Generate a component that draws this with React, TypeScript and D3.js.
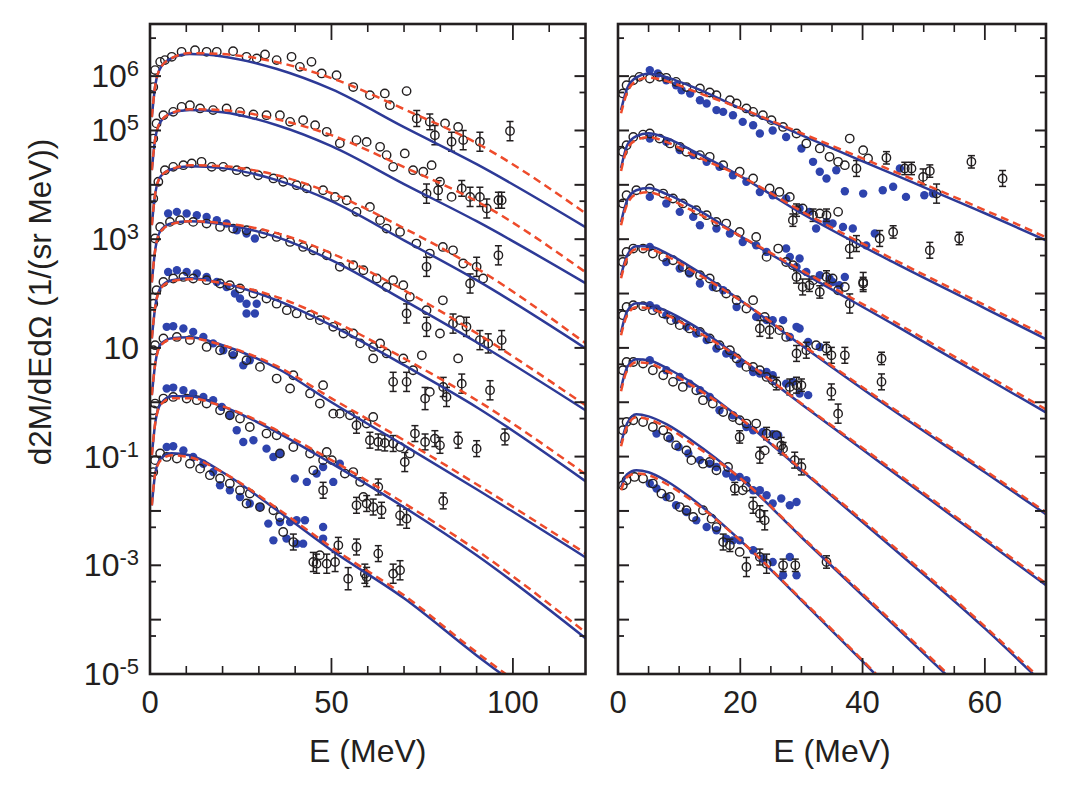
import React from "react";
import * as d3 from "d3";

// ---- axis ticks ----
const leftMajorE = [0, 50, 100];
const leftMinorE = [10, 20, 30, 40, 60, 70, 80, 90, 110];
const rightMajorE = [0, 20, 40, 60];
const rightMinorE = [5, 10, 15, 25, 30, 35, 45, 50, 55, 65];
const yMajor = [1e-5, 1e-4, 1e-3, 1e-2, 1e-1, 1, 10, 1e2, 1e3, 1e4, 1e5, 1e6];
const yMinor = [5e-5, 5e-4, 5e-3, 5e-2, 5e-1, 5, 50, 5e2, 5e3, 5e4, 5e5, 5e6];
const yLabels: [number, string][] = [
  [1e6, "6"], [1e5, "5"], [1e3, "3"], [10, ""], [1e-1, "-1"], [1e-3, "-3"], [1e-5, "-5"],
];

// ---- left panel: model curves [E, d2M/dEdΩ] ----
const leftSolid = [
  [[0.5,1.76e5],[1.5,7.1e5],[3,1.46e6],[6,2.14e6],[11,2.54e6],[20,2.3e6],[35,1.35e6],[50,5.75e5],[70,1.15e5],[90,2.4e4],[120,1.66e3]],
  [[0.5,1.87e4],[1.5,7.5e4],[3,1.48e5],[6,2.08e5],[11,2.37e5],[20,2.17e5],[35,1.25e5],[50,5.15e4],[70,1.03e4],[90,2.14e3],[120,155]],
  [[0.5,1.81e3],[1.5,7.3e3],[3,1.45e4],[6,1.94e4],[11,2.2e4],[20,2.03e4],[35,1.22e4],[50,5.0e3],[70,950],[90,176],[120,9.8]],
  [[0.5,161],[1.5,680],[3,1.46e3],[6,1.97e3],[11,2.14e3],[20,1.89e3],[35,1.09e3],[50,410],[70,75],[90,12.7],[120,0.71]],
  [[0.5,15],[1.5,61],[3,131],[6,176],[11,191],[20,155],[35,75],[50,26],[70,4.8],[90,0.81],[120,0.0352]],
  [[0.5,1.35],[1.5,5.44],[3,11.7],[6,15],[11,15.7],[20,11.2],[35,4.22],[50,1.0],[70,0.161],[90,0.0251],[120,1.4e-3]],
  [[0.5,0.106],[1.5,0.44],[3,0.95],[6,1.29],[11,1.29],[20,0.84],[35,0.28],[50,0.075],[70,0.0117],[90,1.53e-3],[120,4.55e-5]],
  [[0.5,0.0127],[1.5,0.0515],[3,0.093],[6,0.115],[11,0.106],[20,0.0515],[35,0.0103],[50,1.89e-3],[70,2.47e-4],[90,2.2e-5],[100,7.0e-6]],
];
const leftDashed = [
  [[0.5,1.76e5],[1.5,7.1e5],[3,1.46e6],[6,2.14e6],[11,2.65e6],[20,2.54e6],[35,1.81e6],[50,9.2e5],[70,2.47e5],[90,5.85e4],[120,3.0e3]],
  [[0.5,1.87e4],[1.5,7.5e4],[3,1.48e5],[6,2.08e5],[11,2.47e5],[20,2.37e5],[35,1.61e5],[50,8.2e4],[70,2.12e4],[90,5.0e3],[120,247]],
  [[0.5,1.81e3],[1.5,7.3e3],[3,1.45e4],[6,1.94e4],[11,2.3e4],[20,2.2e4],[35,1.5e4],[50,7.0e3],[70,1.59e3],[90,292],[120,12.2]],
  [[0.5,161],[1.5,680],[3,1.4e3],[6,1.89e3],[11,2.14e3],[20,1.97e3],[35,1.29e3],[50,550],[70,115],[90,18.6],[120,0.88]],
  [[0.5,15],[1.5,61],[3,125],[6,168],[11,183],[20,155],[35,86],[50,32.4],[70,6.4],[90,1.09],[120,0.0474]],
  [[0.5,1.35],[1.5,5.44],[3,11.2],[6,14.5],[11,15],[20,11.2],[35,4.6],[50,1.18],[70,0.2],[90,0.031],[120,1.66e-3]],
  [[0.5,0.106],[1.5,0.44],[3,0.91],[6,1.18],[11,1.18],[20,0.84],[35,0.305],[50,0.086],[70,0.0139],[90,1.89e-3],[120,5.85e-5]],
  [[0.5,0.0127],[1.5,0.0515],[3,0.086],[6,0.106],[11,0.097],[20,0.0515],[35,0.0112],[50,2.14e-3],[70,2.8e-4],[90,2.5e-5],[100,8.0e-6]],
];

// ---- left panel: measurements [E, value, error factor?] ----
const leftOpen = [
  [[0.9,6.3e5],[1.4,1.29e6],[2.8,1.83e6],[4.1,1.97e6],[6,2.27e6],[8.7,2.8e6],[12.4,3.0e6],[15.6,2.8e6],[18.4,2.8e6],[22.9,2.88e6],[26.6,2.27e6],[29.4,2.12e6],[31.7,2.5e6],[34.9,1.97e6],[39,2.27e6],[41.3,1.48e6],[44.5,1.83e6],[47.3,1.12e6],[51.4,1.04e6],[56,6.3e5],[60.6,4.47e5],[64.7,4.8e5],[66.1,2.92e5],[70.7,5.3e5],[73.5,1.66e5,1.4],[77.1,1.44e5,1.4],[78.5,8.2e4,1.5],[81.3,1.35e5],[83.1,6.2e4,1.5],[84.9,1.16e5],[86.3,6.65e4,1.5],[90.9,6.2e4,1.5],[99.2,9.75e4,1.5]],
  [[0.9,7.1e4],[1.8,1.35e5],[3.7,1.91e5],[6.4,2.2e5],[8.7,2.72e5],[11,2.92e5],[13.8,2.54e5],[17.4,2.37e5],[21.1,2.54e5],[24.8,2.2e5],[28.5,1.97e5],[32.1,1.91e5],[35.8,1.91e5],[38.6,1.44e5],[42.2,1.55e5],[45.5,1.25e5],[48.7,9.45e4],[52.3,5.8e4],[56.9,6.65e4],[59.7,6.17e4],[63.4,5.0e4],[65.2,3.52e4],[70.2,3.78e4],[67,2.14e4],[72.5,1.86e4],[75.3,1.74e4],[77.6,2.3e4],[76.2,6.9e3,1.5],[79.9,1.14e4],[79.4,7.95e3,1.5],[83.1,6.0e3],[85.9,8.6e3,1.4],[88.2,6.0e3,1.5],[90.9,6.0e3,1.5],[92.8,3.67e3,1.5],[96,5.2e3,1.4],[96.9,5.2e3,1.4]],
  [[0.9,5.6e3],[2.3,1.14e4],[4.1,1.86e4],[6.4,2.14e4],[9.2,2.3e4],[11.5,2.48e4],[14.2,2.65e4],[17,2.14e4],[20.2,2.14e4],[23.9,1.86e4],[26.6,1.74e4],[29.8,1.5e4],[34,1.31e4],[36.7,1.14e4],[40.4,9.85e3],[43.2,8.6e3],[47.7,7.95e3],[51,6.0e3],[54.2,5.2e3],[56.9,3.18e3],[60.6,3.93e3],[63.4,2.24e3],[65.2,1.57e3],[68.9,1.36e3],[73.4,830],[77.1,544],[80.7,720],[83.5,625],[80.7,75],[76.2,310,1.5],[86.3,357],[90,310,1.5],[91.8,189],[88.2,153,1.5],[96,505,1.5]],
  [[1.4,1.03e3],[2.8,1.68e3],[5.5,2.08e3],[8.3,2.24e3],[11.9,2.08e3],[15.6,1.94e3],[19.3,1.68e3],[22.9,1.57e3],[26.6,1.46e3],[31.2,1.27e3],[34.9,1.1e3],[38.6,890],[42.2,720],[45,625],[48.7,505],[52.3,310],[56,332],[58.8,268],[62.5,189],[65.2,132],[67,176],[69.8,142],[71.6,87],[70.7,43,1.5],[76.2,49.4],[79.9,18.4],[76.2,24.4,1.5],[83.5,28,1.5],[85.4,32.4],[84.9,6.4],[87.2,24.4,1.5],[90.9,13.9,1.5],[93.2,12.1,1.5],[96.9,13.9,1.5]],
  [[0.9,65],[1.8,115],[3.7,163],[6.4,189],[9.2,202],[11.9,189],[15.6,176],[19.3,153],[22,142],[24.8,124],[28.5,100],[32.1,81],[34.9,65],[37.7,49.4],[40.4,43],[44.1,40],[46.8,32.4],[50.5,24.4],[53.3,18.4],[56,18.4],[57.9,12.1],[61.5,10.4],[63.4,12.1],[65.2,7.9],[61.5,6.4],[67,2.37,1.5],[69.8,6.4],[70.7,2.37,1.5],[72.5,3.88],[74.9,7.3],[75.8,1.17,1.6],[77.1,1.55],[80.8,1.91,1.5],[81.7,1.25,1.5],[85.9,2.2,1.5],[93.7,1.66,1.5]],
  [[0.9,9.05],[1.4,11.2],[3.7,14.9],[7.4,15.9],[11,13.9],[15.6,10.4],[19.3,9.05],[22.9,7.9],[26.6,5.92],[30.3,4.47],[34.9,2.73],[39.5,3.14],[38.6,1.79],[44.1,1.45],[46.8,0.945],[47.7,2.06],[50.5,0.617],[52.3,0.617],[55.1,0.575],[56.9,0.377,1.4],[59.7,0.405],[61.5,0.535],[60.6,0.2,1.4],[62.9,0.186,1.4],[64.7,0.178,1.4],[67,0.174,1.4],[68.9,0.15],[70.2,0.0795,1.5],[71.6,0.114],[73,0.265,1.4],[75.8,0.186,1.4],[78.5,0.214,1.4],[79.9,0.161,1.4],[84.9,0.2,1.4],[90,0.14,1.4],[97.8,0.23,1.4]],
  [[0.9,0.71],[1.4,0.945],[3.7,1.17],[6.4,1.25],[10.1,1.17],[12.9,1.09],[15.6,0.945],[19.3,0.71],[22,0.575],[24.8,0.5],[27.5,0.35],[32.1,0.265],[34.9,0.247],[35.8,0.114],[39.5,0.15],[44.1,0.114],[47.7,0.086],[48.7,0.122],[50.1,0.086],[45,0.056],[53.7,0.0487],[56,0.052],[57.9,0.0342],[47.7,0.024,1.4],[56.9,0.0127,1.4],[59.7,0.0137,1.4],[61.5,0.0118,1.4],[62.9,0.0276,1.4],[63.8,0.0103,1.4],[68.9,8.3e-3,1.5],[70.7,7.2e-3,1.5],[80.8,0.0153,1.4],[58.8,0.0181]],
  [[0.9,0.052],[1.4,0.086],[2.8,0.114],[4.6,0.0985],[7.4,0.092],[11,0.074],[13.8,0.06],[16.5,0.0455],[19.3,0.0395],[22,0.0319],[24.8,0.024],[27.5,0.0209],[26.6,0.0137],[30.3,0.0118],[34,0.0103],[35.8,7.7e-3],[36.7,4.1e-3],[39.5,2.68e-3,1.4],[45,1.15e-3,1.5],[45.9,1.07e-3,1.5],[46.8,1.53e-3],[48.7,1.07e-3,1.5],[51,1.15e-3,1.5],[51.9,2.33e-3,1.4],[54.6,5.67e-4,1.6],[56.9,2.17e-3,1.4],[59.2,7.0e-4,1.5],[59.7,6.1e-4,1.5],[62.9,1.64e-3,1.4],[67,7.0e-4,1.5],[68.9,8.1e-4,1.5]],
];
const leftFilled = [
  [], [], [],
  [[5,2.97e3],[7.4,3.18e3],[10.1,2.97e3],[12.9,2.76e3],[15.6,2.57e3],[18.4,2.24e3],[21.1,1.94e3],[23.9,1.46e3],[26.6,1.27e3],[28.9,1.03e3]],
  [[5,250],[7.4,268],[10.1,250],[12.9,233],[15.6,202],[18.4,163],[21.1,132],[23.4,100],[24.8,81],[26.6,65],[26.6,43],[28.9,43],[29.4,65]],
  [[4.6,24.4],[6.4,25],[9.2,22.8],[11.9,19.7],[14.7,15.9],[17.4,12.1],[20.2,9.05],[22.9,7.3],[25.7,4.8],[27.5,5.92]],
  [[4.6,1.79],[6.4,1.86],[9.2,1.66],[11.9,1.45],[14.7,1.25],[17.4,1.09],[19.8,0.82],[22,0.575],[23.9,0.305],[25.7,0.186],[28.5,0.2],[32.1,0.14],[34,0.0985],[35.8,0.114],[39.9,0.0395],[43.2,0.0342],[45.9,0.0487],[47.7,0.0644],[50.5,0.0342],[52.3,0.074]],
  [[4.6,0.15],[6.4,0.155],[9.2,0.13],[11.9,0.0985],[14.7,0.074],[17.4,0.052],[19.3,0.0297],[22,0.024],[24.8,0.0181],[27.5,0.0137],[30.3,0.0118],[32.6,5.85e-3],[34,2.88e-3],[35.8,6.25e-3],[38.6,6.25e-3],[40.4,6.73e-3],[42.7,6.73e-3],[37.6,3.1e-3],[40.4,2.5e-3],[42.2,2.5e-3],[47.7,5.05e-3],[47.7,3.1e-3]],
];

// ---- right panel: model curves ----
const rightSolid = [
  [[0.5,2.37e5],[1.5,6.0e5],[3,9.5e5],[5,1.11e6],[8,9.5e5],[12,6.5e5],[20,2.57e5],[30,8.2e4],[45,1.57e4],[60,3.0e3],[70,950]],
  [[0.5,2.03e4],[1.5,5.35e4],[3,7.9e4],[5,8.9e4],[8,7.2e4],[12,4.35e4],[20,1.45e4],[30,3.0e3],[45,377],[60,53.5],[70,14.5]],
  [[0.5,2.06e3],[1.5,5.2e3],[3,7.95e3],[5,8.7e3],[8,6.73e3],[12,4.05e3],[20,1.14e3],[30,247],[45,27.3],[60,2.88],[70,0.65]],
  [[0.5,217],[1.5,505],[3,740],[5,740],[8,550],[12,305],[20,75],[30,11.2],[45,0.71],[60,0.0515],[70,8.7e-3]],
  [[0.5,19.4],[1.5,47.3],[3,66.5],[5,63.7],[8,47.3],[12,27.3],[20,6.44],[30,0.92],[45,0.0515],[60,2.88e-3],[70,4.28e-4]],
  [[0.5,1.81],[1.5,4.41],[3,6.17],[5,5.92],[8,4.22],[12,2.33],[20,0.505],[30,0.056],[45,2.06e-3],[60,6.9e-5],[70,5.9e-6]],
  [[0.5,0.176],[1.5,0.41],[3,0.6],[5,0.55],[8,0.39],[12,0.2],[20,0.04],[30,3.28e-3],[45,8.2e-5],[55,7.0e-6]],
  [[0.5,0.0273],[1.5,0.0473],[3,0.056],[5,0.0515],[8,0.0352],[12,0.0171],[20,2.88e-3],[30,2.27e-4],[40,1.71e-5],[45,4.6e-6]],
];
const rightDashed = [
  [[0.5,2.08e5],[1.5,5.05e5],[3,8.1e5],[5,9.4e5],[8,8.1e5],[12,5.5e5],[20,2.57e5],[30,8.9e4],[45,1.79e4],[60,3.42e3],[70,1.09e3]],
  [[0.5,1.79e4],[1.5,4.55e4],[3,6.65e4],[5,7.5e4],[8,6.1e4],[12,3.67e4],[20,1.45e4],[30,3.28e3],[45,428],[60,61],[70,16.4]],
  [[0.5,1.81e3],[1.5,4.41e3],[3,6.73e3],[5,7.3e3],[8,5.67e3],[12,3.42e3],[20,1.14e3],[30,268],[45,31],[60,3.28],[70,0.74]],
  [[0.5,191],[1.5,447],[3,650],[5,650],[8,485],[12,268],[20,75],[30,11.7],[45,0.77],[60,0.056],[70,9.45e-3]],
  [[0.5,17.1],[1.5,40],[3,56],[5,53.5],[8,40],[12,23],[20,6.44],[30,0.95],[45,0.056],[60,3.14e-3],[70,4.65e-4]],
  [[0.5,1.59],[1.5,3.88],[3,5.44],[5,5.2],[8,3.72],[12,2.06],[20,0.505],[30,0.0585],[45,2.24e-3],[60,7.5e-5],[70,6.5e-6]],
  [[0.5,0.155],[1.5,0.36],[3,0.53],[5,0.485],[8,0.345],[12,0.176],[20,0.04],[30,3.42e-3],[45,8.9e-5],[55,7.7e-6]],
  [[0.5,0.024],[1.5,0.042],[3,0.049],[5,0.0455],[8,0.031],[12,0.0157],[20,2.88e-3],[30,2.37e-4],[40,1.79e-5],[45,4.8e-6]],
];

// ---- right panel: measurements ----
const rightOpen = [
  [[0.8,4.8e5],[1.4,6.8e5],[2.5,8.4e5],[3.5,9.7e5],[5.2,9.05e5],[6.8,9.7e5],[7.9,9.3e5],[9.5,7.85e5],[11.2,6.3e5],[13.4,5.92e5],[15,5.0e5],[16.1,4.47e5],[18.3,3.6e5],[19.4,3.14e5],[21,2.54e5],[22.1,2.2e5],[23.7,1.91e5],[25.1,1.55e5],[27,1.16e5],[29.2,8.8e4],[30.8,5.78e4],[33,4.67e4],[34.6,3.28e4],[36,2.65e4],[37.1,2.3e4],[37.9,7.1e4],[40.1,4.35e4],[40.9,3.06e4],[39,2.0e4,1.4],[43.9,3.14e4,1.3],[46.9,2.0e4,1.3],[48,2.0e4,1.3],[49.9,1.4e4,1.4],[51,1.79e4,1.3],[52.1,6.9e3,1.5],[57.8,2.65e4,1.3],[62.9,1.31e4,1.4]],
  [[0.8,4.05e4],[1.4,5.35e4],[2.5,7.6e4],[4.1,8.4e4],[5.2,8.8e4],[6.8,7.1e4],[8.5,5.78e4],[10.1,5.0e4],[11.2,4.05e4],[13.4,3.52e4],[15,3.28e4],[17.2,2.3e4],[19.9,1.74e4],[22.1,1.31e4],[24.8,8.6e3],[26.4,7.4e3],[28.1,6.0e3],[29.2,3.42e3,1.3],[30.2,3.67e3],[31.9,2.76e3,1.3],[33,2.97e3],[34.1,2.76e3,1.3],[36,3.18e3],[37.9,673,1.5],[39,830,1.4],[42.8,1.03e3,1.4],[45,1.36e3,1.3],[51,625,1.4],[55.8,1.03e3,1.3],[40.1,163,1.5],[28.6,2.24e3,1.3]],
  [[0.8,4.54e3],[1.4,6.44e3],[3,7.95e3],[5.2,8.6e3],[7.4,6.9e3],[9,5.6e3],[10.6,4.54e3],[12.8,3.42e3],[14.5,2.76e3],[16.1,2.08e3],[17.7,1.94e3],[19.9,1.36e3],[22.6,1.1e3],[26.2,673],[24.3,472],[27.5,380],[28.6,332],[29.2,202,1.3],[30.2,132,1.4],[31.3,142,1.3],[33,107,1.3],[31.9,176],[34.1,202,1.3],[35.1,189],[36,115],[37.1,132],[37.9,65.5,1.5],[40.1,153,1.3]],
  [[0.8,380],[1.4,583],[2.5,673],[4.1,673],[5.7,544],[7.4,472],[9,410],[10.6,309],[11.7,250],[13.4,217],[15,189],[16.1,132],[17.7,100],[19.4,75.5],[22.1,75.5],[21,53],[24,37.2],[23.2,22.8,1.4],[24.8,21.2,1.4],[26.4,21.2],[27.5,15.9],[29.2,7.9,1.4],[30.8,9.05,1.4],[32.4,11.2],[34.1,9.75,1.3],[34.9,7.3,1.4],[37.1,7.3,1.4],[43.1,6.4,1.3],[43.1,2.37,1.4]],
  [[0.8,40],[1.4,56.7],[2.5,61],[4.1,58.5],[5.7,49.4],[7.4,43],[8.7,32.4],[10.1,26.2],[11.7,22.8],[13.4,19.7],[15,14.9],[16.6,11.2],[18.3,9.05],[19.4,6.4],[21,4.47],[22.1,4.47],[23.2,3.88],[24.3,2.92],[25.3,2.54],[25.9,2.2,1.3],[28.1,1.91,1.4],[29.2,2.06,1.4],[30,2.06,1.3],[34.9,1.55,1.4],[36,0.617,1.5]],
  [[0.8,3.88],[1.4,5.5],[2.5,5.5],[4.1,5.15],[5.7,3.88],[7.4,3.14],[9,2.37],[10.6,1.91],[12.8,1.66],[13.9,1.09],[15.5,0.945],[17.2,0.66],[18.8,0.535],[19.9,0.466],[21,0.405],[22.6,0.405],[24.3,0.265,1.3],[25.9,0.247],[26.7,0.161,1.4],[19.9,0.23,1.3],[23.2,0.106,1.4],[24,0.13],[27,0.14,1.3],[28.9,0.086,1.4],[30,0.0644,1.4]],
  [[0.8,0.305],[1.4,0.433],[2.5,0.466],[4.1,0.433],[5.7,0.35],[7.4,0.305],[8.2,0.23],[9.5,0.161],[11.2,0.13],[12,0.086],[13.9,0.074],[15,0.0795],[16.1,0.056],[18,0.0644],[19.1,0.0258,1.3],[20.4,0.024],[21,0.0276],[22.1,0.0127,1.4],[23.2,8.9e-3,1.4],[24,6.73e-3,1.5]],
  [[0.8,0.0297],[1.4,0.0367],[2.7,0.0422],[4.1,0.0395],[5.7,0.0319],[7.1,0.0209],[8.5,0.0181],[10.1,0.0118],[11.2,0.0103],[12.3,7.75e-3],[13.9,0.0103],[15.3,7.2e-3],[16.1,5.05e-3],[17.2,2.68e-3,1.4],[18.3,2.33e-3,1.3],[19.9,1.76e-3],[21,9.3e-4,1.5],[23.2,1.42e-3,1.4],[24.3,1.07e-3,1.5],[27,1.0e-3,1.3],[29,1.0e-3,1.3],[34.1,1.15e-3,1.3]],
];
const rightFilled = [
  [[5.2,1.29e6],[6.5,1.12e6],[7.9,8.4e5],[9.5,6.8e5],[10.4,5.5e5],[11.8,4.8e5],[13.4,3.6e5],[14.5,3.14e5],[16.1,2.37e5],[17.2,2.2e5],[18.8,1.91e5],[20.4,1.44e5],[22.1,1.25e5],[23.2,8.8e4],[25.3,1.0e5],[27.5,7.6e4],[30,4.67e4],[31.9,2.65e4],[33,1.74e4],[34.1,1.31e4],[35.7,1.86e4],[37.1,7.6e3],[40.1,6.9e3],[43.3,7.95e3],[45,9.2e3],[46.1,2.0e4],[47.1,6.0e3],[50.1,6.44e3],[51.5,6.9e3]],
  [[5.2,7.1e4],[7.9,6.17e4],[10.1,4.35e4],[12.3,3.52e4],[14.5,2.65e4],[16.6,2.14e4],[18.8,1.5e4],[21,1.14e4],[23.2,7.4e3],[25.3,6.44e3],[27.5,5.6e3],[29.7,3.67e3],[31.3,3.18e3],[32.4,1.57e3],[34.1,2.08e3],[35.1,1.94e3],[36.8,1.68e3],[38.4,1.57e3],[40.6,770],[42,1.27e3]],
  [[5.2,6.0e3],[7.9,4.54e3],[10.1,3.18e3],[12.3,2.57e3],[13.4,1.81e3],[16.1,1.57e3],[18.3,1.27e3],[20.4,890],[22.6,770],[24.3,583],[27.5,673],[29.7,441],[28.1,472],[29.2,309],[30.8,250],[33,217],[34.6,189],[35.1,163],[37.1,202],[36.2,142]],
  [[5.2,720],[7.9,380],[10.1,288],[11.7,233],[13.4,153],[15.5,132],[17.2,115],[19.4,56.7],[22.6,37.2],[24.3,32.4],[25.3,32.4],[27,32.4],[29.2,24.4],[29.7,22.8],[28.1,15.9],[31.1,12.9],[33,10.4]],
  [[5.2,61],[6.3,53],[7.9,40],[9.5,32.4],[11.2,24.4],[12.8,18.4],[14.5,13.9],[16.1,9.75],[17.7,7.9],[18.8,7.3],[19.9,5.15],[22.1,3.6],[23.2,3.38],[24.3,3.6],[25.3,3.14],[27.5,2.2],[28.6,2.37],[29.7,1.45],[31.1,1.35]],
  [[5.2,5.92],[7.9,3.88],[10.1,2.92],[11.7,2.2],[13.4,1.66],[15,1.25],[16.6,0.71],[18.8,0.575],[21,0.35],[22.1,0.305],[23.7,0.284],[25.3,0.257],[26.2,0.247]],
  [[6.3,0.265],[8.5,0.214],[9.9,0.15],[11.5,0.114],[13.4,0.086],[15,0.074],[16.1,0.0644],[17.7,0.0487],[18.8,0.0422],[19.9,0.0422],[21,0.0367],[22.1,0.024],[23.2,0.024],[24.3,0.0194],[25.3,0.0137],[26.7,0.0169],[28.1,0.0127],[29.2,0.0146]],
  [[5.2,0.0319],[6.3,0.0258],[7.9,0.0181],[9.5,0.0127],[11.2,9.5e-3],[12.8,6.73e-3],[14.5,5.05e-3],[16.1,4.41e-3],[17.7,3.1e-3],[18.8,2.88e-3],[19.9,2.88e-3],[22.1,1.89e-3],[23.7,1.33e-3],[25.3,1.15e-3],[28.1,1.42e-3],[27,6.55e-4],[29.2,6.55e-4]],
];

// ---- layout / style ----
const W = 1072, H = 787;
const Y_TOP = 24, Y_BOTTOM = 674;
const INK = "#231f20";
const BLUE_LINE = "#2d3a97";
const BLUE_DOT = "#2e43ad";
const RED = "#ee4b2b";
const FONT = "'Liberation Sans', Arial, Helvetica, sans-serif";

const y = d3.scaleLog().domain([1e-5, 9.1e6]).range([Y_BOTTOM, Y_TOP]);

function Panel({ id, x0, x1, eMax, major, minor, solid, dashed, open, filled }: any) {
  const x = d3.scaleLinear().domain([0, eMax]).range([x0, x1]);
  const line = d3.line<number[]>()
    .x(d => x(d[0]))
    .y(d => y(d[1]))
    .curve(d3.curveMonotoneX);

  return (
    <g>
      <defs>
        <clipPath id={id}>
          <rect x={x0} y={Y_TOP} width={x1 - x0} height={Y_BOTTOM - Y_TOP} />
        </clipPath>
      </defs>
      <g clipPath={`url(#${id})`}>
        {filled.map((s: number[][], i: number) => s.map((d, j) => (
          <circle key={`f${i}-${j}`} cx={x(d[0])} cy={y(d[1])} r={4.2} fill={BLUE_DOT} />
        )))}
        {open.map((s: number[][], i: number) => s.map((d, j) => (
          <g key={`o${i}-${j}`}>
            {d[2] ? (
              <g stroke={INK} strokeWidth={1.5}>
                <line x1={x(d[0])} x2={x(d[0])} y1={y(d[1] / d[2])} y2={y(d[1] * d[2])} />
                <line x1={x(d[0]) - 3.5} x2={x(d[0]) + 3.5} y1={y(d[1] / d[2])} y2={y(d[1] / d[2])} />
                <line x1={x(d[0]) - 3.5} x2={x(d[0]) + 3.5} y1={y(d[1] * d[2])} y2={y(d[1] * d[2])} />
              </g>
            ) : null}
            <circle cx={x(d[0])} cy={y(d[1])} r={4.2} fill="none" stroke={INK} strokeWidth={1.4} />
          </g>
        )))}
        {solid.map((s: number[][], i: number) => (
          <path key={`s${i}`} d={line(s) || ""} fill="none" stroke={BLUE_LINE} strokeWidth={2.5} />
        ))}
        {dashed.map((s: number[][], i: number) => (
          <path key={`d${i}`} d={line(s) || ""} fill="none" stroke={RED} strokeWidth={2.5} strokeDasharray="8 5" />
        ))}
      </g>

      <g stroke={INK}>
        {major.map((e: number) => (
          <g key={`xm${e}`} strokeWidth={1.8}>
            <line x1={x(e)} x2={x(e)} y1={Y_BOTTOM} y2={Y_BOTTOM - 16} />
            <line x1={x(e)} x2={x(e)} y1={Y_TOP} y2={Y_TOP + 16} />
          </g>
        ))}
        {minor.map((e: number) => (
          <g key={`xn${e}`} strokeWidth={1.6}>
            <line x1={x(e)} x2={x(e)} y1={Y_BOTTOM} y2={Y_BOTTOM - 8} />
            <line x1={x(e)} x2={x(e)} y1={Y_TOP} y2={Y_TOP + 8} />
          </g>
        ))}
        {yMajor.map(v => (
          <g key={`ym${v}`} strokeWidth={2}>
            <line x1={x0} x2={x0 + 11} y1={y(v)} y2={y(v)} />
            <line x1={x1} x2={x1 - 11} y1={y(v)} y2={y(v)} />
          </g>
        ))}
        {yMinor.map(v => (
          <g key={`yn${v}`} strokeWidth={1.8}>
            <line x1={x0} x2={x0 + 6} y1={y(v)} y2={y(v)} />
            <line x1={x1} x2={x1 - 6} y1={y(v)} y2={y(v)} />
          </g>
        ))}
        <rect x={x0} y={Y_TOP} width={x1 - x0} height={Y_BOTTOM - Y_TOP} fill="none" strokeWidth={2.6} />
      </g>

      <g fontFamily={FONT} fontSize={31} fill={INK} textAnchor="middle">
        {major.map((e: number) => (
          <text key={`xl${e}`} x={x(e)} y={713}>{e}</text>
        ))}
        <text x={(x0 + x1) / 2} y={762} fontSize={32}>E (MeV)</text>
      </g>
    </g>
  );
}

export default function App() {
  return (
    <svg width={W} height={H} viewBox={`0 0 ${W} ${H}`}
      style={{ position: "absolute", left: 0, top: 0, background: "#fff" }}>
      <rect width={W} height={H} fill="#fff" />
      <Panel id="clipL" x0={150} x1={585.5} eMax={120} major={leftMajorE} minor={leftMinorE}
        solid={leftSolid} dashed={leftDashed} open={leftOpen} filled={leftFilled} />
      <Panel id="clipR" x0={618} x1={1046} eMax={70} major={rightMajorE} minor={rightMinorE}
        solid={rightSolid} dashed={rightDashed} open={rightOpen} filled={rightFilled} />

      <g fontFamily={FONT} fontSize={32} fill={INK} textAnchor="end">
        {yLabels.map(([v, sup]) => (
          <text key={`yl${v}`} x={139} y={y(v) + 11}>
            10{sup ? <tspan dy={-11} fontSize={22}>{sup}</tspan> : null}
          </text>
        ))}
      </g>
      <text transform="translate(51,302) rotate(-90)" textAnchor="middle"
        fontFamily={FONT} fontSize={31.5} fill={INK}>
        d2M/dEdΩ (1/(sr MeV))
      </text>
    </svg>
  );
}
